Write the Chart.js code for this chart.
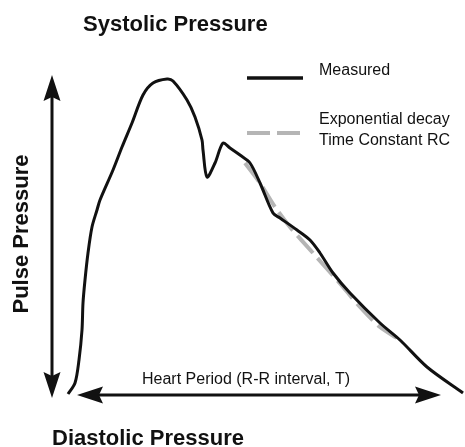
<!DOCTYPE html>
<html>
<head>
<meta charset="utf-8">
<script src="https://cdn.jsdelivr.net/npm/chart.js@4/dist/chart.umd.min.js"></script>
<style>
  html, body { margin: 0; padding: 0; background: #fff; }
  #wrap { width: 465px; height: 447px; position: relative; }
</style>
</head>
<body>
<div id="wrap"><canvas id="pressure-chart"></canvas></div>
<script>
// Measured arterial pressure wave (time and pressure in arbitrary units)
const measuredTime = [0, 7, 11, 14, 15, 17, 20, 24, 29, 32, 45, 54, 64, 75, 85, 99, 105, 119, 127, 134, 135, 139, 147, 155, 162, 172, 182, 192, 205, 212, 229, 242, 252, 265, 282, 312, 332, 359, 395];
const measuredPressure = [1, 12, 35, 65, 92, 115, 142, 168, 185, 195, 225, 248, 272, 300, 312, 316, 314, 295, 278, 255, 245, 218, 232, 252, 247, 240, 232, 212, 182, 177, 165, 155, 142, 122, 102, 72, 55, 28, 2];

// Exponential decay fit (time constant RC)
const decayTime = [177, 192, 207, 222, 245, 275, 292, 312, 329];
const decayPressure = [232, 212, 188, 168, 142, 108, 88, 68, 57];

// Axis ranges and annotation values
const timeRange = [-68, 397];
const pressureRange = [-52, 395];
const heartPeriod = [9, 373];      // R-R interval, at diastolic level 0
const pulseRange = [-3, 320];      // diastolic -> systolic
const pulseArrowTime = -16;

const seriesLabels = ["Measured", ["Exponential decay", "Time Constant RC"]];
const FONT = '"Liberation Sans", Arial, sans-serif';

function toPoints(xs, ys) {
    return xs.map((t, i) => ({ x: t, y: ys[i] }));
}

// Draw a notched arrow head with its tip at (tx, ty) pointing along angle
function arrowHead(ctx, tx, ty, angle) {
    const len = 26, half = 8.5, notch = 4;
    ctx.save();
    ctx.translate(tx, ty);
    ctx.rotate(angle);
    ctx.beginPath();
    ctx.moveTo(0, 0);
    ctx.lineTo(-len, -half);
    ctx.lineTo(-len + notch, 0);
    ctx.lineTo(-len, half);
    ctx.closePath();
    ctx.fill();
    ctx.restore();
}

function doubleArrow(ctx, x1, y1, x2, y2) {
    const angle = Math.atan2(y2 - y1, x2 - x1);
    const dx = Math.cos(angle) * 20, dy = Math.sin(angle) * 20;
    ctx.beginPath();
    ctx.moveTo(x1 + dx, y1 + dy);
    ctx.lineTo(x2 - dx, y2 - dy);
    ctx.stroke();
    arrowHead(ctx, x2, y2, angle);
    arrowHead(ctx, x1, y1, angle + Math.PI);
}

const annotations = {
    id: "annotations",
    afterDatasetsDraw(chart) {
        const { ctx, scales: { x, y } } = chart;
        ctx.save();
        ctx.strokeStyle = "#111";
        ctx.fillStyle = "#111";
        ctx.lineWidth = 3;

        // Pulse pressure arrow
        const px = x.getPixelForValue(pulseArrowTime);
        doubleArrow(ctx, px, y.getPixelForValue(pulseRange[0]), px, y.getPixelForValue(pulseRange[1]));

        // Heart period arrow
        const hy = y.getPixelForValue(0);
        doubleArrow(ctx, x.getPixelForValue(heartPeriod[0]), hy, x.getPixelForValue(heartPeriod[1]), hy);

        // Texts
        ctx.textBaseline = "alphabetic";
        ctx.textAlign = "left";
        ctx.font = "bold 22px " + FONT;
        ctx.fillText("Systolic Pressure", 83, 31);
        ctx.fillText("Diastolic Pressure", 52, 445);

        ctx.save();
        ctx.translate(28, 234);
        ctx.rotate(-Math.PI / 2);
        ctx.textAlign = "center";
        ctx.fillText("Pulse Pressure", 0, 0);
        ctx.restore();

        ctx.font = "16px " + FONT;
        ctx.fillText("Heart Period (R-R interval, T)", 142, 384);

        // Legend
        ctx.fillText(seriesLabels[0], 319, 75);
        ctx.fillText(seriesLabels[1][0], 319, 124);
        ctx.fillText(seriesLabels[1][1], 319, 145);

        ctx.lineWidth = 3.3;
        ctx.beginPath();
        ctx.moveTo(247, 78);
        ctx.lineTo(303, 78);
        ctx.stroke();

        ctx.strokeStyle = "#b5b5b5";
        ctx.lineWidth = 4;
        ctx.setLineDash([23, 7]);
        ctx.beginPath();
        ctx.moveTo(247, 133);
        ctx.lineTo(300, 133);
        ctx.stroke();
        ctx.restore();
    }
};

new Chart(document.getElementById("pressure-chart"), {
    type: "line",
    data: {
        datasets: [
            {
                label: seriesLabels[0],
                data: toPoints(measuredTime, measuredPressure),
                borderColor: "#111",
                borderWidth: 3,
                pointRadius: 0,
                tension: 0.3,
                fill: false,
                order: 0
            },
            {
                label: seriesLabels[1].join(" "),
                data: toPoints(decayTime, decayPressure),
                borderColor: "#b5b5b5",
                borderWidth: 4,
                borderDash: [23, 7],
                pointRadius: 0,
                tension: 0.3,
                fill: false,
                order: 1
            }
        ]
    },
    options: {
        responsive: true,
        maintainAspectRatio: false,
        animation: false,
        layout: { padding: 0 },
        plugins: {
            legend: { display: false },
            tooltip: { enabled: false },
            title: { display: false }
        },
        scales: {
            x: { type: "linear", min: timeRange[0], max: timeRange[1], display: false },
            y: { type: "linear", min: pressureRange[0], max: pressureRange[1], display: false }
        }
    },
    plugins: [annotations]
});
</script>
</body>
</html>
